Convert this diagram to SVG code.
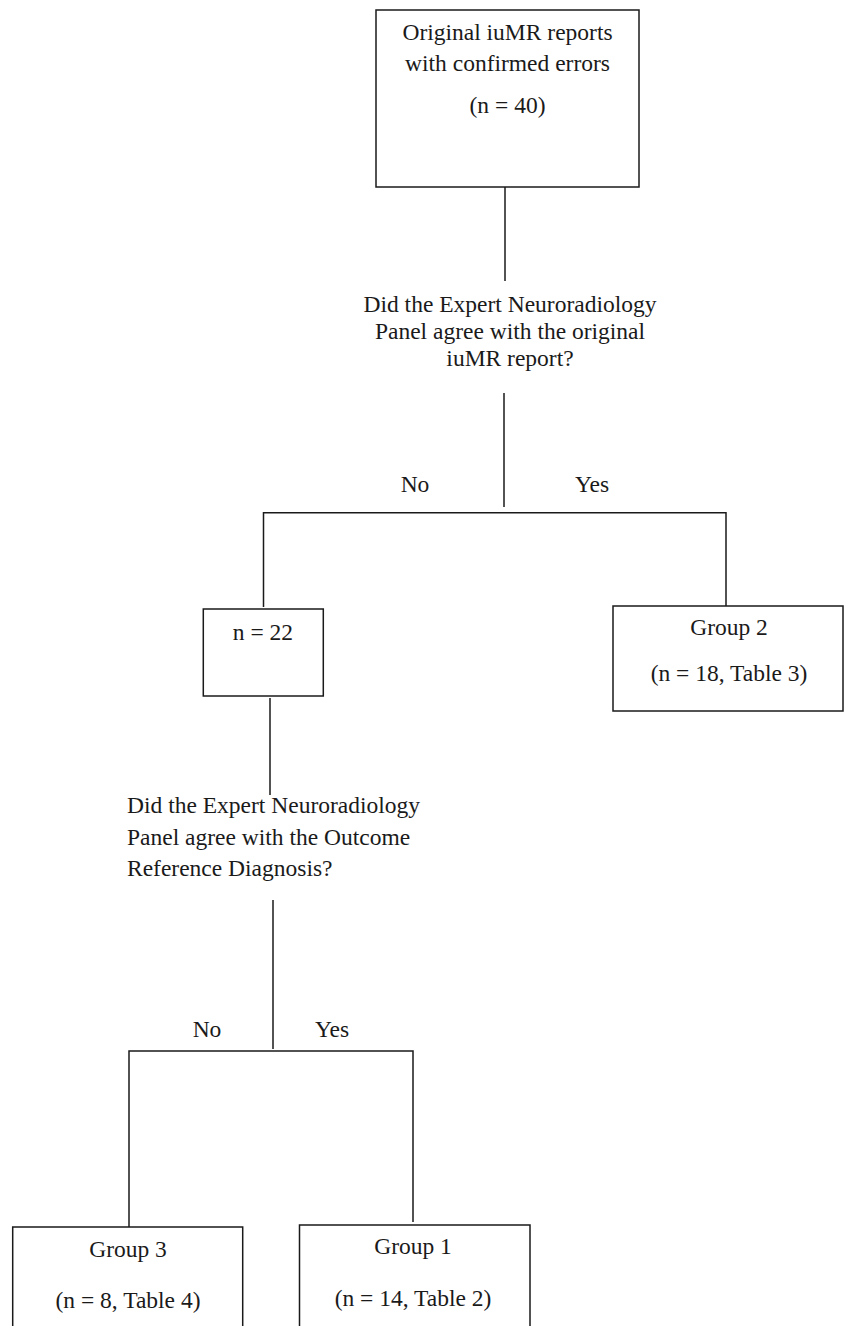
<svg xmlns="http://www.w3.org/2000/svg" width="844" height="1326" viewBox="0 0 844 1326">
<style>
.box{fill:#fff;stroke:#1a1a1a;stroke-width:1.5}
.ln{fill:none;stroke:#1a1a1a;stroke-width:1.5}
text{font-family:"Liberation Serif","Times New Roman",serif;font-size:23.5px;fill:#1a1a1a}
.c{text-anchor:middle}
</style>
<rect width="844" height="1326" fill="#fff"/>
<g id="connectors">
<line class="ln" x1="505" y1="187" x2="505" y2="281"/>
<line class="ln" x1="504" y1="393" x2="504" y2="507"/>
<polyline class="ln" points="263.5,607 263.5,512.7 726,512.7 726,606"/>
<line class="ln" x1="270" y1="698" x2="270" y2="795"/>
<line class="ln" x1="273" y1="900" x2="273" y2="1049"/>
<polyline class="ln" points="129,1227 129,1051 413,1051 413,1222"/>
</g>
<g id="labels">
<text class="c" x="415" y="492">No</text>
<text class="c" x="592" y="492">Yes</text>
<text class="c" x="207" y="1037">No</text>
<text class="c" x="332" y="1037">Yes</text>
</g>
<g id="node-original">
<rect class="box" x="376" y="10" width="263" height="177"/>
<text class="c" x="507.5" y="40">Original iuMR reports</text>
<text class="c" x="507.5" y="71">with confirmed errors</text>
<text class="c" x="507.5" y="113">(n = 40)</text>
</g>
<g id="node-question1">
<text class="c" x="510" y="312">Did the Expert Neuroradiology</text>
<text class="c" x="510" y="339">Panel agree with the original</text>
<text class="c" x="510" y="366">iuMR report?</text>
</g>
<g id="node-n22">
<rect class="box" x="203.3" y="609" width="120" height="87"/>
<text class="c" x="263" y="640">n = 22</text>
</g>
<g id="node-group2">
<rect class="box" x="613" y="606" width="230" height="105"/>
<text class="c" x="729" y="635">Group 2</text>
<text class="c" x="729" y="681">(n = 18, Table 3)</text>
</g>
<g id="node-question2">
<text x="127" y="813">Did the Expert Neuroradiology</text>
<text x="127" y="845">Panel agree with the Outcome</text>
<text x="127" y="876">Reference Diagnosis?</text>
</g>
<g id="node-group3">
<rect class="box" x="12.7" y="1227" width="230" height="120"/>
<text class="c" x="128" y="1257">Group 3</text>
<text class="c" x="128" y="1308">(n = 8, Table 4)</text>
</g>
<g id="node-group1">
<rect class="box" x="299.5" y="1225" width="230.5" height="120"/>
<text class="c" x="413" y="1254">Group 1</text>
<text class="c" x="413" y="1306">(n = 14, Table 2)</text>
</g>
</svg>
